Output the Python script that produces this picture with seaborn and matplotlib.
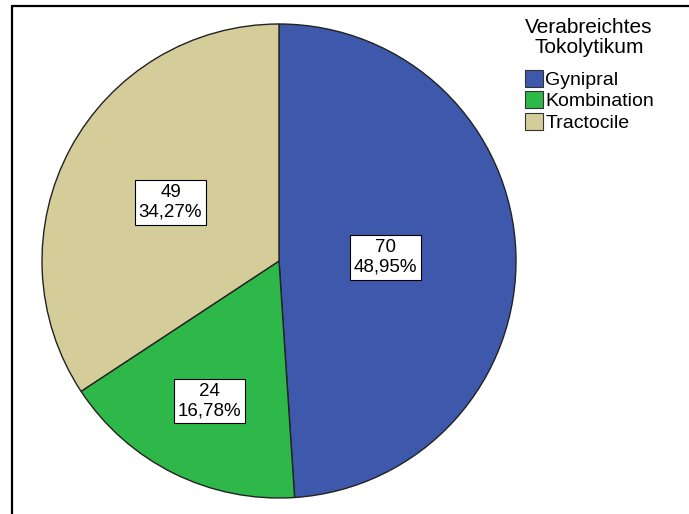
import matplotlib
matplotlib.use("Agg")
import matplotlib.pyplot as plt
import matplotlib.patches as mpatches
import matplotlib.lines as mlines
import numpy as np
import seaborn as sns

# data
categories = ["Gynipral", "Kombination", "Tractocile"]
counts = [70, 24, 49]
legend_title = "Verabreichtes\nTokolytikum"

colors = ["#3E58AC", "#2FB84A", "#D5CD99"]
label_radius = [0.45, 0.66, 0.52]

sns.set_theme(style="white")
plt.rcParams["font.family"] = ["Liberation Sans", "DejaVu Sans"]
plt.rcParams["text.color"] = "black"

fig = plt.figure(figsize=(6.89, 5.14), dpi=100)
W, H = 689, 514
cx, cy, r = 279, 261, 237
ax = fig.add_axes([(cx - r) / W, (H - cy - r) / H, 2 * r / W, 2 * r / H])

wedges, _ = ax.pie(counts, colors=colors, startangle=90, counterclock=False,
                   wedgeprops=dict(edgecolor="#222222", linewidth=1.0))
ax.set_xlim(-1, 1)
ax.set_ylim(-1, 1)
ax.set_aspect("equal")
ax.axis("off")

total = sum(counts)
for w, n, rad in zip(wedges, counts, label_radius):
    ang = np.deg2rad((w.theta1 + w.theta2) / 2)
    pct = f"{100 * n / total:.2f}".replace(".", ",")
    ax.text(rad * np.cos(ang), rad * np.sin(ang), f"{n}\n{pct}%",
            ha="center", va="center", fontsize=13.5, linespacing=1.2,
            bbox=dict(boxstyle="square,pad=0.2", fc="white", ec="black", lw=0.8))

# legend title drawn separately so its spacing can match
fig.text(589 / W, 1 - 18 / H, legend_title, ha="center", va="top", fontsize=15,
         linespacing=1.05)
handles = [mpatches.Patch(facecolor=c, edgecolor="#333333", linewidth=0.8) for c in colors]
leg = fig.legend(handles, categories, loc="upper left",
                 bbox_to_anchor=(525 / W, 1 - 70 / H), frameon=False,
                 fontsize=14, handlelength=0.9, handleheight=0.95,
                 handletextpad=0.15, labelspacing=0.12, borderaxespad=0, borderpad=0)
for t in leg.get_texts():
    t.set_color("black")

# chart frame (only top and left edges visible)
fig.add_artist(mlines.Line2D([12 / W, 12 / W], [0, 1 - 5.5 / H], transform=fig.transFigure,
                             color="black", lw=1.6))
fig.add_artist(mlines.Line2D([12 / W, 1], [1 - 5.5 / H, 1 - 5.5 / H], transform=fig.transFigure,
                             color="black", lw=1.6))

fig.savefig("out.png", dpi=100)
